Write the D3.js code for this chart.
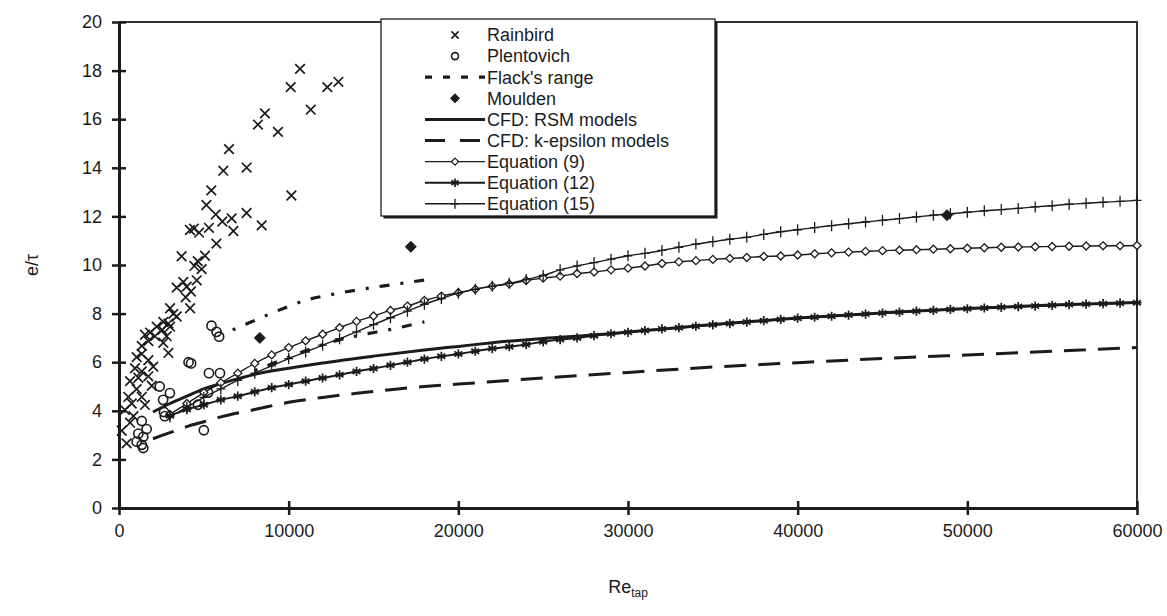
<!DOCTYPE html>
<html>
<head>
<meta charset="utf-8">
<script src="https://cdn.jsdelivr.net/npm/d3@7"></script>
<style>
  html, body { margin: 0; padding: 0; background: #fff; }
  svg { display: block; font-family: "Liberation Sans", Arial, sans-serif; }
</style>
</head>
<body>
<svg id="chart" width="1167" height="616"></svg>
<script>
// ---- data ----
const xTicks = [0, 10000, 20000, 30000, 40000, 50000, 60000];
const yTicks = [0, 2, 4, 6, 8, 10, 12, 14, 16, 18, 20];

// experimental points [Re_tap, e/tau]
const rainbird = [
  [10670,18.07],[10120,17.32],[12280,17.32],[12930,17.54],[11300,16.39],[8600,16.24],
  [8190,15.78],[9370,15.48],[6480,14.77],[6150,13.88],[7520,14.01],[5440,13.07],
  [10160,12.86],[5150,12.47],[5700,12.08],[7520,12.14],[6640,11.92],[6090,11.79],
  [8410,11.63],[6740,11.40],[5300,11.53],[4180,11.44],[4420,11.50],[4720,11.33],
  [5740,10.88],[3690,10.36],[4640,10.16],[5070,10.38],[4440,9.96],[4870,9.83],
  [4580,9.37],[3790,9.30],[3400,9.07],[3990,9.11],[4240,8.91],[3930,8.67],
  [4190,8.22],[3010,8.22],[3400,7.88],[3200,7.99],[2610,7.66],[2910,7.59],
  [2220,7.46],[2550,7.33],[1830,7.22],[3010,7.46],[2120,7.07],[1530,7.13],
  [2810,7.07],[1730,6.87],[1340,6.67],[2610,6.80],[2910,6.38],[1340,6.34],
  [1040,6.21],[1730,6.08],[2020,5.82],[940,5.75],[1340,5.62],[1730,5.42],
  [1140,5.36],[650,5.22],[1930,5.03],[1040,4.89],[550,4.57],[1340,4.57],
  [750,4.30],[1530,4.24],[350,4.04],[850,3.78],[650,3.51],[160,3.18],[450,2.66]
];
const plentovich = [
  [5450,7.5],[5750,7.25],[5900,7.05],[4100,6.0],[4250,5.95],[5300,5.55],[5950,5.55],
  [3000,4.73],[2400,5.0],[2600,4.45],[2650,3.95],[2700,3.78],[4650,4.25],[5250,4.75],
  [5000,3.2],[1340,3.58],[1630,3.25],[1140,3.06],[1430,2.93],[1040,2.73],[1340,2.6],[1430,2.47]
];
const moulden = [[8300,7.0],[17200,10.75],[48800,12.05]];

// Flack's range: upper and lower bounds
const flackUpper = [[6700,7.33],[7600,7.6],[8800,7.96],[10000,8.3],[11000,8.55],[12500,8.78],[14000,8.97],[16000,9.18],[18000,9.38]];
const flackLower = [[8000,5.65],[10000,6.2],[12000,6.72],[14000,7.08],[16000,7.35],[18000,7.66]];

// CFD results
const cfdRsm = [[2000,3.95],[3000,4.3],[4000,4.6],[5000,4.9],[6000,5.12],[8000,5.5],[10000,5.75],[12000,5.97],
  [15000,6.25],[18000,6.5],[20000,6.65],[22000,6.8],[25000,6.98],[28000,7.12],[30000,7.24],[35000,7.55],
  [40000,7.82],[45000,8.03],[50000,8.21],[55000,8.35],[60000,8.46]];
const cfdKeps = [[2000,2.85],[3000,3.1],[4000,3.35],[5000,3.55],[6000,3.75],[8000,4.05],[10000,4.35],[12000,4.55],
  [14000,4.72],[16000,4.87],[18000,5.0],[20000,5.1],[25000,5.35],[30000,5.58],[35000,5.8],[40000,5.98],
  [45000,6.15],[50000,6.3],[55000,6.45],[60000,6.6]];

// equation curves, evaluated at these Re_tap values
const eqRe = [3000,4000,5000,6000,7000,8000,9000,10000,11000,12000,13000,14000,15000,16000,17000,18000,19000,20000,
  21000,22000,23000,24000,25000,26000,27000,28000,29000,30000,31000,32000,33000,34000,35000,36000,37000,38000,39000,40000,
  41000,42000,43000,44000,45000,46000,47000,48000,49000,50000,51000,52000,53000,54000,55000,56000,57000,58000,59000,60000];
const eq9 = [3.85,4.3,4.75,5.15,5.55,5.95,6.3,6.6,6.88,7.15,7.42,7.68,7.9,8.13,8.31,8.54,8.72,8.86,
  9.0,9.13,9.22,9.36,9.46,9.54,9.65,9.71,9.8,9.87,9.96,10.06,10.13,10.18,10.23,10.27,10.31,10.35,10.37,10.41,
  10.46,10.5,10.53,10.56,10.59,10.61,10.63,10.65,10.67,10.69,10.71,10.73,10.74,10.75,10.76,10.77,10.78,10.79,10.79,10.8];
const eq12 = [3.8,4.05,4.25,4.45,4.6,4.78,4.95,5.08,5.22,5.35,5.48,5.62,5.74,5.87,6.0,6.13,6.24,6.34,
  6.45,6.56,6.64,6.73,6.84,6.93,7.0,7.09,7.17,7.23,7.3,7.37,7.42,7.48,7.54,7.59,7.65,7.71,7.76,7.81,
  7.85,7.89,7.94,7.98,8.02,8.06,8.1,8.13,8.17,8.2,8.23,8.26,8.29,8.31,8.34,8.37,8.39,8.41,8.43,8.45];
const eq15 = [3.75,4.15,4.55,4.9,5.25,5.55,5.85,6.15,6.42,6.7,6.97,7.25,7.55,7.83,8.1,8.38,8.62,8.84,
  9.0,9.13,9.25,9.4,9.57,9.8,9.96,10.1,10.24,10.38,10.48,10.6,10.73,10.86,10.96,11.06,11.14,11.26,11.37,11.45,
  11.54,11.62,11.7,11.77,11.84,11.91,11.98,12.05,12.11,12.17,12.23,12.28,12.33,12.39,12.44,12.5,12.54,12.58,12.62,12.66];

const legendItems = ["Rainbird", "Plentovich", "Flack's range", "Moulden", "CFD: RSM models",
  "CFD: k-epsilon models", "Equation (9)", "Equation (12)", "Equation (15)"];

// ---- layout ----
const ink = "#1b1b1b";
const svg = d3.select("#chart");
const x = d3.scaleLinear().domain([0, 60000]).range([119, 1137]);
const y = d3.scaleLinear().domain([0, 20]).range([508, 22]);

// ---- marker shapes (centered at 0,0) ----
const shapes = {
  cross: s => `M${-s},${-s}L${s},${s}M${-s},${s}L${s},${-s}`,
  diamond: s => `M0,${-s}L${s},0L0,${s}L${-s},0Z`,
  star: s => `M0,${-s}L0,${s}M${-s*0.85},${-s*0.55}L${s*0.85},${s*0.55}M${-s*0.85},${s*0.55}L${s*0.85},${-s*0.55}M${-s},0L${s},0`,
  plus: s => `M0,${-s}L0,${s}M${-s*0.8},0L${s*0.8},0`
};

function drawMarkers(g, pts, kind, size, opts) {
  g.selectAll(null).data(pts).join("path")
    .attr("transform", d => `translate(${x(d[0])},${y(d[1])})`)
    .attr("d", shapes[kind](size))
    .attr("fill", opts.fill || "none")
    .attr("stroke", opts.stroke || ink)
    .attr("stroke-width", opts.sw || 1.5)
    .attr("stroke-linejoin", "miter");
}

const line = d3.line().x(d => x(d[0])).y(d => y(d[1])).curve(d3.curveMonotoneX);

// ---- frame ----
const frame = svg.append("g");
frame.append("path")
  .attr("d", `M${x(0)},${y(20)}H${x(60000)}V${y(0)}`)
  .attr("fill", "none").attr("stroke", "#333").attr("stroke-width", 2);

// ---- axes ----
const yAxis = svg.append("g").attr("transform", `translate(${x(0)},0)`)
  .call(d3.axisLeft(y).tickValues(yTicks).tickSizeInner(7).tickSizeOuter(0).tickPadding(10));
const xAxis = svg.append("g").attr("transform", `translate(0,${y(0)})`)
  .call(d3.axisBottom(x).tickValues(xTicks).tickFormat(d3.format("d")).tickSizeInner(7).tickSizeOuter(0).tickPadding(9));
[yAxis, xAxis].forEach(a => {
  a.select(".domain").attr("stroke", ink).attr("stroke-width", 3);
  a.selectAll(".tick line").attr("stroke", ink).attr("stroke-width", 2.5);
  a.selectAll(".tick text").attr("fill", ink).attr("font-size", 18)
    .attr("font-family", "Liberation Sans, Arial, sans-serif");
});
yAxis.selectAll(".tick line").attr("x1", -7).attr("x2", 7);
xAxis.selectAll(".tick line").attr("y1", -7).attr("y2", 7);

// axis titles
svg.append("text")
  .attr("transform", "translate(38,265) rotate(-90)")
  .attr("text-anchor", "middle").attr("font-size", 18).attr("fill", ink)
  .text("e/τ");
const xt = svg.append("text").attr("x", 628).attr("y", 593)
  .attr("text-anchor", "middle").attr("font-size", 18).attr("fill", ink);
xt.append("tspan").text("Re");
xt.append("tspan").attr("font-size", 12).attr("dy", 4).text("tap");

// ---- data layers ----
const plot = svg.append("g");

drawMarkers(plot, rainbird, "cross", 4.8, { sw: 1.7 });
plot.selectAll(null).data(plentovich).join("circle")
  .attr("cx", d => x(d[0])).attr("cy", d => y(d[1])).attr("r", 4.6)
  .attr("fill", "none").attr("stroke", ink).attr("stroke-width", 1.6);

[flackUpper, flackLower].forEach(arr => {
  plot.append("path").datum(arr).attr("d", line)
    .attr("fill", "none").attr("stroke", ink).attr("stroke-width", 3.2)
    .attr("stroke-dasharray", "3,11,10,11");
});

drawMarkers(plot, moulden, "diamond", 5.5, { fill: ink, sw: 1 });

plot.append("path").datum(cfdRsm).attr("d", line)
  .attr("fill", "none").attr("stroke", ink).attr("stroke-width", 3);
plot.append("path").datum(cfdKeps).attr("d", line)
  .attr("fill", "none").attr("stroke", ink).attr("stroke-width", 3)
  .attr("stroke-dasharray", "22,12");

const eqSeries = [
  { vals: eq9, kind: "diamond", size: 4, sw: 1.3, lw: 1.4, fill: "#fff" },
  { vals: eq12, kind: "star", size: 4.6, sw: 1.7, lw: 2, fill: "none" },
  { vals: eq15, kind: "plus", size: 5.5, sw: 1.3, lw: 1.4, fill: "none" }
];
eqSeries.forEach(s => {
  const pts = eqRe.map((r, i) => [r, s.vals[i]]);
  plot.append("path").datum(pts).attr("d", line)
    .attr("fill", "none").attr("stroke", ink).attr("stroke-width", s.lw);
  drawMarkers(plot, pts, s.kind, s.size, { sw: s.sw, fill: s.fill });
});

// ---- legend ----
const lg = svg.append("g");
const box = { x: 381, y: 19, w: 334, h: 197 };
lg.append("rect").attr("x", box.x + 2.5).attr("y", box.y + 2.5).attr("width", box.w).attr("height", box.h)
  .attr("fill", ink);
lg.append("rect").attr("x", box.x).attr("y", box.y).attr("width", box.w).attr("height", box.h)
  .attr("fill", "#fff").attr("stroke", ink).attr("stroke-width", 1.3);

const rowY = i => 35 + i * 21.1;
const sx0 = 425, sx1 = 485, sxc = 455;
legendItems.forEach((name, i) => {
  const ry = rowY(i);
  const g = lg.append("g");
  g.append("text").attr("x", 487).attr("y", ry).attr("dy", "0.35em")
    .attr("font-size", 18).attr("fill", ink).text(name);
  const seg = (dash, w) => g.append("line").attr("x1", sx0).attr("x2", sx1).attr("y1", ry).attr("y2", ry)
    .attr("stroke", ink).attr("stroke-width", w).attr("stroke-dasharray", dash);
  const mk = (kind, size, fill, sw) => g.append("path").attr("transform", `translate(${sxc},${ry})`)
    .attr("d", shapes[kind](size)).attr("fill", fill).attr("stroke", ink).attr("stroke-width", sw);
  if (i === 0) mk("cross", 3.6, "none", 1.6);
  if (i === 1) g.append("circle").attr("cx", sxc).attr("cy", ry).attr("r", 3.5)
    .attr("fill", "none").attr("stroke", ink).attr("stroke-width", 1.6);
  if (i === 2) seg("7,11", 3.2);
  if (i === 3) mk("diamond", 4.5, ink, 1);
  if (i === 4) seg(null, 3);
  if (i === 5) seg("20,15", 3);
  if (i === 6) { seg(null, 1.4); mk("diamond", 3.5, "#fff", 1.3); }
  if (i === 7) { seg(null, 2); mk("star", 4.2, "none", 1.7); }
  if (i === 8) { seg(null, 1.4); mk("plus", 5, "none", 1.3); }
});
</script>
</body>
</html>
